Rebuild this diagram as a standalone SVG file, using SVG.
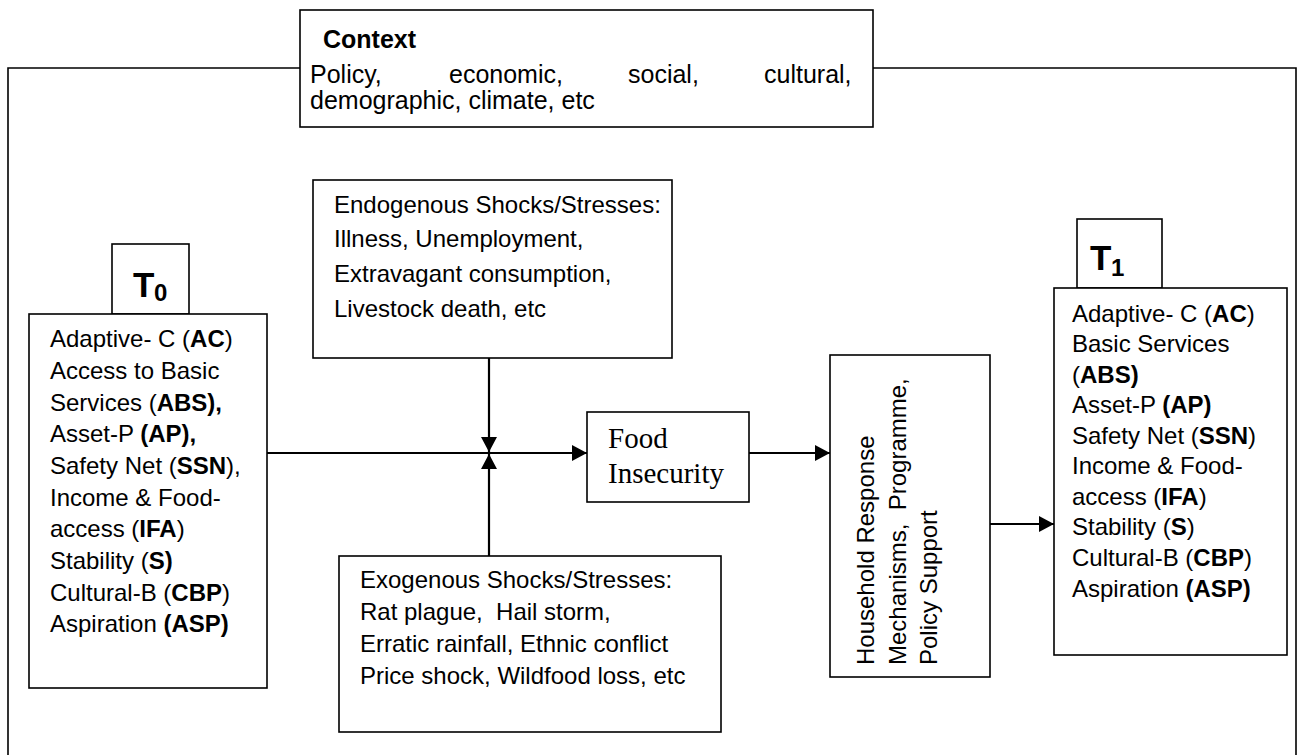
<svg xmlns="http://www.w3.org/2000/svg" width="1304" height="755" viewBox="0 0 1304 755">
<style>
  .box { fill: #fff; stroke: #000; stroke-width: 1.6; }
  .frame { fill: none; stroke: #000; stroke-width: 1.6; }
  .t { font-family: "Liberation Sans", Arial, sans-serif; font-size: 24px; fill: #000; white-space: pre; }
  .ctx { font-family: "Liberation Sans", Arial, sans-serif; font-size: 25px; fill: #000; white-space: pre; }
  .ser { font-family: "Liberation Serif", "Times New Roman", serif; font-size: 29px; fill: #000; }
  .b { font-weight: bold; }
  .big { font-family: "Liberation Sans", Arial, sans-serif; font-weight: bold; font-size: 35px; fill: #000; }
  .sub { font-family: "Liberation Sans", Arial, sans-serif; font-weight: bold; font-size: 24px; fill: #000; }
  .conn { fill: none; stroke: #000; stroke-width: 2.2; marker-end: url(#ah); }
</style>
<defs>
  <marker id="ah" markerUnits="userSpaceOnUse" markerWidth="16" markerHeight="16" refX="15" refY="8" orient="auto">
    <path d="M0,0 L15,8 L0,16 z" fill="#000"/>
  </marker>
  <clipPath id="ctxclip"><rect x="300" y="10" width="573" height="106"/></clipPath>
</defs>
<rect width="1304" height="755" fill="#fff"/>

<g id="frame">
  <path class="frame" d="M8,756 V68 H300 M873,68 H1296 V756"/>
</g>

<g id="context">
  <rect class="box" x="300" y="10" width="573" height="117"/>
  <g clip-path="url(#ctxclip)">
    <text class="ctx b" x="323" y="48" font-size="26">Context</text>
    <text class="ctx" y="83"><tspan x="310">Policy,</tspan><tspan x="449">economic,</tspan><tspan x="628">social,</tspan><tspan x="764">cultural,</tspan></text>
    <text class="ctx" x="310" y="109">demographic, climate, etc</text>
  </g>
</g>

<g id="connectors">
  <path class="conn" d="M267,453 H587"/>
  <path class="conn" d="M489,358 V452"/>
  <path class="conn" d="M489,556 V454"/>
  <path class="conn" d="M749,453 H830"/>
  <path class="conn" d="M990,524 H1054"/>
</g>

<g id="t0-label">
  <rect class="box" x="112" y="244" width="77" height="70"/>
  <text class="big" x="133" y="297">T</text>
  <text class="sub" x="154" y="301">0</text>
</g>

<g id="t0-box">
  <rect class="box" x="29" y="314" width="238" height="374"/>
  <text class="t" x="50" y="347">Adaptive- C (<tspan class="b">AC</tspan>)</text>
  <text class="t" x="50" y="379">Access to Basic</text>
  <text class="t" x="50" y="411">Services (<tspan class="b">ABS),</tspan></text>
  <text class="t" x="50" y="442">Asset-P <tspan class="b">(AP),</tspan></text>
  <text class="t" x="50" y="474">Safety Net (<tspan class="b">SSN</tspan>),</text>
  <text class="t" x="50" y="506">Income &amp; Food-</text>
  <text class="t" x="50" y="537">access (<tspan class="b">IFA</tspan>)</text>
  <text class="t" x="50" y="569">Stability (<tspan class="b">S)</tspan></text>
  <text class="t" x="50" y="601">Cultural-B (<tspan class="b">CBP</tspan>)</text>
  <text class="t" x="50" y="632">Aspiration <tspan class="b">(ASP)</tspan></text>
</g>

<g id="endogenous">
  <rect class="box" x="313" y="180" width="359" height="178"/>
  <text class="t" x="334" y="213">Endogenous Shocks/Stresses:</text>
  <text class="t" x="334" y="247">Illness, Unemployment,</text>
  <text class="t" x="334" y="282">Extravagant consumption,</text>
  <text class="t" x="334" y="317">Livestock death, etc</text>
</g>

<g id="exogenous">
  <rect class="box" x="339" y="556" width="382" height="176"/>
  <text class="t" x="360" y="588">Exogenous Shocks/Stresses:</text>
  <text class="t" x="360" y="620">Rat plague,  Hail storm,</text>
  <text class="t" x="360" y="652">Erratic rainfall, Ethnic conflict</text>
  <text class="t" x="360" y="684">Price shock, Wildfood loss, etc</text>
</g>

<g id="food-insecurity">
  <rect class="box" x="587" y="412" width="162" height="90"/>
  <text class="ser" x="608" y="448">Food</text>
  <text class="ser" x="608" y="483">Insecurity</text>
</g>

<g id="household-response">
  <rect class="box" x="830" y="355" width="160" height="322"/>
  <text class="t" transform="translate(874,665) rotate(-90)">Household Response</text>
  <text class="t" transform="translate(906,665) rotate(-90)">Mechanisms,  Programme,</text>
  <text class="t" transform="translate(937,665) rotate(-90)">Policy Support</text>
</g>

<g id="t1-label">
  <rect class="box" x="1077" y="219" width="85" height="69"/>
  <text class="big" x="1090" y="270">T</text>
  <text class="sub" x="1111" y="276">1</text>
</g>

<g id="t1-box">
  <rect class="box" x="1054" y="288" width="233" height="367"/>
  <text class="t" x="1072" y="322">Adaptive- C (<tspan class="b">AC</tspan>)</text>
  <text class="t" x="1072" y="352">Basic Services</text>
  <text class="t" x="1072" y="383">(<tspan class="b">ABS)</tspan></text>
  <text class="t" x="1072" y="413">Asset-P <tspan class="b">(AP)</tspan></text>
  <text class="t" x="1072" y="444">Safety Net (<tspan class="b">SSN</tspan>)</text>
  <text class="t" x="1072" y="474">Income &amp; Food-</text>
  <text class="t" x="1072" y="505">access (<tspan class="b">IFA</tspan>)</text>
  <text class="t" x="1072" y="535">Stability (<tspan class="b">S</tspan>)</text>
  <text class="t" x="1072" y="566">Cultural-B (<tspan class="b">CBP</tspan>)</text>
  <text class="t" x="1072" y="597">Aspiration <tspan class="b">(ASP)</tspan></text>
</g>
</svg>
